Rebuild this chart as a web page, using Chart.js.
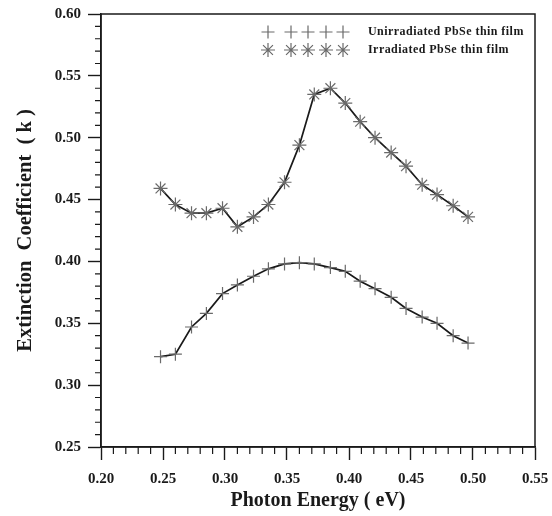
<!DOCTYPE html>
<html>
<head>
<meta charset="utf-8">
<script src="https://cdn.jsdelivr.net/npm/chart.js@4.4.1/dist/chart.umd.min.js"></script>
<style>
  html, body { margin: 0; padding: 0; background: #fff; }
  canvas { display: block; }
</style>
</head>
<body>
<canvas id="kChart" width="552" height="516"></canvas>
<script>
// photon energy (eV), shared by both films
const energy = [0.248, 0.260, 0.273, 0.285, 0.298, 0.310, 0.323, 0.335, 0.348, 0.360, 0.372,
  0.385, 0.397, 0.409, 0.421, 0.434, 0.446, 0.459, 0.471, 0.484, 0.496];
const kUnirradiated = [0.323, 0.325, 0.347, 0.358, 0.374, 0.381, 0.388, 0.394, 0.398, 0.399, 0.398,
  0.395, 0.392, 0.384, 0.378, 0.371, 0.362, 0.355, 0.350, 0.340, 0.334];
const kIrradiated = [0.459, 0.446, 0.439, 0.439, 0.443, 0.428, 0.436, 0.446, 0.464, 0.494, 0.535,
  0.540, 0.528, 0.513, 0.500, 0.488, 0.477, 0.462, 0.454, 0.445, 0.436];
const seriesLabels = ["Unirradiated PbSe thin film", "Irradiated PbSe thin film"];
const xTitle = "Photon Energy ( eV)";
const yTitle = "Extinction  Coefficient  ( k )";

const FONT = "'Liberation Serif', 'Times New Roman', serif";
const INK = "#1a1a1a";
const MARK = "#6a6a6a";

function toPoints(ys) {
  return energy.map((e, i) => ({ x: e, y: ys[i] }));
}

// minor ticks every 0.01 + box frame
const framePlugin = {
  id: "frame",
  afterDraw(chart) {
    const ctx = chart.ctx;
    const area = chart.chartArea;
    const xs = chart.scales.x;
    const ys = chart.scales.y;
    ctx.save();
    ctx.strokeStyle = INK;
    ctx.lineWidth = 1.5;
    ctx.strokeRect(area.left, area.top, area.right - area.left, area.bottom - area.top);
    ctx.lineWidth = 1.2;
    ctx.beginPath();
    for (let i = 1; i < 35; i++) {
      if (i % 5 === 0) continue;
      const px = xs.getPixelForValue(0.2 + i * 0.01);
      ctx.moveTo(px, area.bottom);
      ctx.lineTo(px, area.bottom + 7);
      const py = ys.getPixelForValue(0.25 + i * 0.01);
      ctx.moveTo(area.left, py);
      ctx.lineTo(area.left - 6, py);
    }
    ctx.stroke();
    ctx.restore();
  },
};

// legend: five markers then label, top right inside plot
const legendPlugin = {
  id: "markLegend",
  afterDraw(chart) {
    const ctx = chart.ctx;
    const rows = [
      { style: "cross", r: 6.5, y: 32 },
      { style: "star", r: 7, y: 50 },
    ];
    const xs = [268, 291, 308, 326, 343];
    ctx.save();
    rows.forEach((row, k) => {
      ctx.strokeStyle = MARK;
      ctx.lineWidth = 1.2;
      xs.forEach((x) => {
        Chart.helpers.drawPoint(ctx, { pointStyle: row.style, radius: row.r, rotation: 0, borderWidth: 1.2 }, x, row.y);
      });
      ctx.fillStyle = INK;
      ctx.font = "bold 12px " + FONT;
      ctx.letterSpacing = "0.45px";
      ctx.textBaseline = "middle";
      ctx.textAlign = "left";
      ctx.fillText(seriesLabels[k], 368, row.y);
    });
    ctx.restore();
  },
};

const tickFont = { family: FONT, size: 15, weight: "bold" };

new Chart(document.getElementById("kChart"), {
  type: "scatter",
  data: {
    datasets: [
      {
        label: seriesLabels[0],
        data: toPoints(kUnirradiated),
        showLine: true,
        borderColor: INK,
        borderWidth: 1.7,
        pointStyle: "cross",
        pointRadius: 6.5,
        pointBorderColor: MARK,
        pointBorderWidth: 1.2,
        pointBackgroundColor: MARK,
      },
      {
        label: seriesLabels[1],
        data: toPoints(kIrradiated),
        showLine: true,
        borderColor: INK,
        borderWidth: 1.7,
        pointStyle: "star",
        pointRadius: 7,
        pointBorderColor: MARK,
        pointBorderWidth: 1.2,
        pointBackgroundColor: MARK,
      },
    ],
  },
  options: {
    responsive: false,
    animation: false,
    layout: { padding: { top: 14, right: 17, left: 0, bottom: 0 } },
    plugins: {
      legend: { display: false },
      tooltip: { enabled: false },
    },
    scales: {
      x: {
        type: "linear",
        min: 0.2,
        max: 0.55,
        afterFit(scale) {
          scale.height = 69;
          scale.paddingLeft = 0;
          scale.paddingRight = 0;
        },
        ticks: {
          stepSize: 0.05,
          color: INK,
          font: tickFont,
          padding: 10,
          maxRotation: 0,
          callback: (v) => Number(v).toFixed(2),
        },
        grid: {
          drawOnChartArea: false,
          drawTicks: true,
          tickLength: 13,
          tickColor: INK,
          tickWidth: 1.4,
        },
        border: { display: true, color: INK, width: 1.5 },
        title: {
          display: true,
          text: xTitle,
          color: INK,
          font: { family: FONT, size: 20, weight: "bold" },
          padding: { top: 0, bottom: 3 },
        },
      },
      y: {
        min: 0.25,
        max: 0.6,
        afterFit(scale) {
          scale.width = 101;
          scale.paddingTop = 0;
          scale.paddingBottom = 0;
        },
        ticks: {
          stepSize: 0.05,
          color: INK,
          font: tickFont,
          padding: 7,
          callback: (v) => Number(v).toFixed(2),
        },
        grid: {
          drawOnChartArea: false,
          drawTicks: true,
          tickLength: 13,
          tickColor: INK,
          tickWidth: 1.4,
        },
        border: { display: true, color: INK, width: 1.5 },
        title: {
          display: true,
          text: yTitle,
          color: INK,
          font: { family: FONT, size: 20.5, weight: "bold" },
          padding: { top: 13, bottom: 0 },
        },
      },
    },
  },
  plugins: [framePlugin, legendPlugin],
});
</script>
</body>
</html>
